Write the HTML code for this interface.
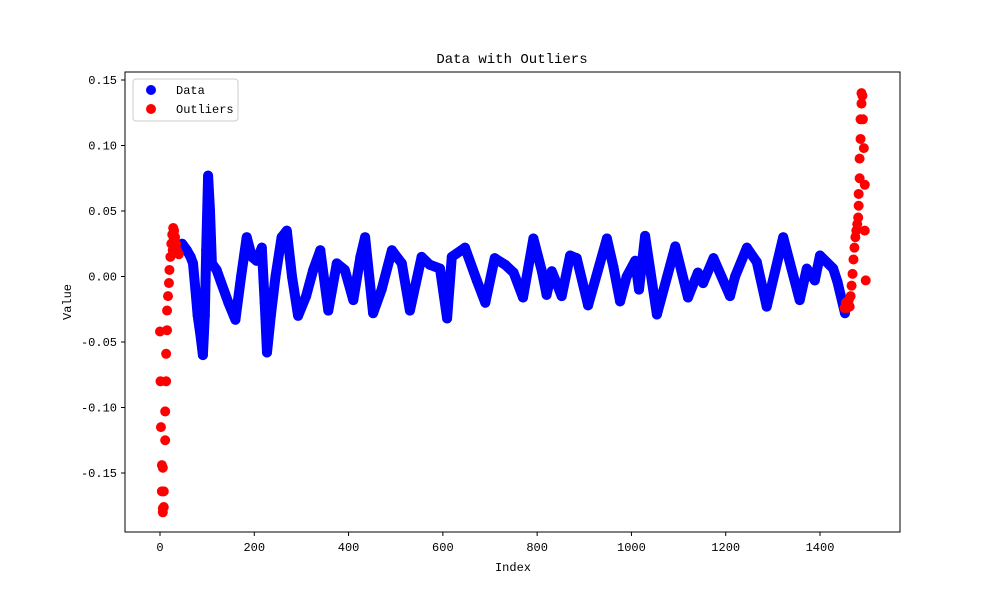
<!DOCTYPE html>
<html><head><meta charset="utf-8"><style>
html,body{margin:0;padding:0;background:#fff}
svg text{font-family:"Liberation Mono","Noto Sans CJK SC",monospace;fill:#000}
</style></head><body>
<svg id="chart" width="1000" height="600" xmlns="http://www.w3.org/2000/svg">
<rect width="1000" height="600" fill="#fff"/>
<text x="512" y="63" font-size="14" text-anchor="middle">Data with Outliers</text>
<g id="plot"></g>
<rect x="125" y="72" width="775" height="460" fill="none" stroke="#000" stroke-width="1"/>
<g id="axes"></g>
<text x="513" y="571" font-size="12" text-anchor="middle">Index</text>
<text transform="translate(71,302) rotate(-90)" font-size="12" text-anchor="middle">Value</text>
<g>
<rect x="133" y="79" width="105" height="42" rx="3" fill="#fff" stroke="#ccc"/>
<circle cx="151" cy="90" r="5" fill="blue"/>
<text x="176" y="94" font-size="12">Data</text>
<circle cx="151" cy="109" r="5" fill="red"/>
<text x="176" y="113" font-size="12">Outliers</text>
</g>
</svg>
<script>
const dataIdx=[47,57,65,70,75,80,86,91,95,98,102,106,110,120,130,145,160,172,184,195,205,216,222,227,235,245,258,269,280,293,310,325,340,357,375,392,410,425,435,452,470,492,513,530,555,572,594,609,619,647,672,690,710,732,750,770,792,810,820,831,852,870,884,908,948,962,976,990,1008,1016,1029,1054,1093,1120,1141,1152,1174,1209,1220,1245,1266,1287,1322,1357,1372,1389,1400,1428,1437,1453];
const dataVal=[0.025,0.02,0.015,0.01,-0.01,-0.03,-0.045,-0.06,-0.03,0.02,0.077,0.05,0.01,0.005,-0.005,-0.02,-0.033,0.0,0.03,0.015,0.012,0.022,-0.02,-0.058,-0.03,0.0,0.03,0.035,0.0,-0.03,-0.015,0.005,0.02,-0.026,0.01,0.005,-0.018,0.015,0.03,-0.028,-0.01,0.02,0.01,-0.026,0.015,0.009,0.006,-0.032,0.015,0.022,-0.003,-0.02,0.014,0.009,0.003,-0.016,0.029,0.004,-0.014,0.004,-0.015,0.016,0.014,-0.022,0.029,0.007,-0.019,0.0,0.012,-0.01,0.031,-0.029,0.023,-0.016,0.003,-0.005,0.014,-0.015,0.0,0.022,0.011,-0.023,0.03,-0.018,0.006,-0.003,0.016,0.006,-0.004,-0.028];
const outIdx=[0,1,2,4,4,6,6,8,8,6,11,11,13,13,15,15,17,19,20,22,24,26,28,30,32,34,36,40,27,29,1452,1455,1458,1461,1463,1465,1467,1469,1471,1473,1475,1477,1479,1481,1482,1482,1484,1484,1486,1486,1488,1488,1490,1491,1493,1495,1495,1497];
const outVal=[-0.042,-0.08,-0.115,-0.144,-0.164,-0.177,-0.18,-0.176,-0.164,-0.146,-0.125,-0.103,-0.08,-0.059,-0.041,-0.026,-0.015,-0.005,0.005,0.015,0.025,0.032,0.037,0.035,0.03,0.025,0.02,0.017,0.02,0.028,-0.024,-0.02,-0.024,-0.018,-0.023,-0.015,-0.007,0.002,0.013,0.022,0.03,0.035,0.04,0.045,0.054,0.063,0.075,0.09,0.105,0.12,0.132,0.14,0.138,0.12,0.098,0.07,0.035,-0.003];
const xTicks=[0,200,400,600,800,1000,1200,1400];
const yTicks=[-0.15,-0.10,-0.05,0.00,0.05,0.10,0.15];
const yTickLabels=["-0.15","-0.10","-0.05","0.00","0.05","0.10","0.15"];

const NS="http://www.w3.org/2000/svg";
const xS=v=>160+v*(660/1400);
const yS=v=>276.5-v*1310;
const plot=document.getElementById('plot'), axes=document.getElementById('axes');
function mk(tag,attrs,parent){const e=document.createElementNS(NS,tag);for(const k in attrs)e.setAttribute(k,attrs[k]);parent.appendChild(e);return e;}

const pts=dataIdx.map((d,i)=>xS(d).toFixed(1)+','+yS(dataVal[i]).toFixed(1)).join(' ');
const line=mk('polyline',{points:pts,fill:'none',stroke:'blue','stroke-width':10,'stroke-linejoin':'round','stroke-linecap':'round'},plot);


dataIdx.forEach((d,i)=>{
  const c=mk('circle',{cx:xS(d),cy:yS(dataVal[i]),r:5,fill:'blue'},plot);
  
  
});
outIdx.forEach((d,i)=>{
  const c=mk('circle',{cx:xS(d),cy:yS(outVal[i]),r:5,fill:'red'},plot);
  
  
});
xTicks.forEach(t=>{
  const x=xS(t);
  const l=mk('line',{x1:x,x2:x,y1:532,y2:536,stroke:'#000'},axes);
  
  
  const tx=mk('text',{x:x,y:551,'font-size':12,'text-anchor':'middle'},axes);
  tx.textContent=t;
  
  
});
yTicks.forEach((t,i)=>{
  const y=yS(t);
  const l=mk('line',{x1:121,x2:125,y1:y,y2:y,stroke:'#000'},axes);
  
  
  const tx=mk('text',{x:117,y:y+4,'font-size':12,'text-anchor':'end'},axes);
  tx.textContent=yTickLabels[i];
  
  
});
</script>
</body></html>
